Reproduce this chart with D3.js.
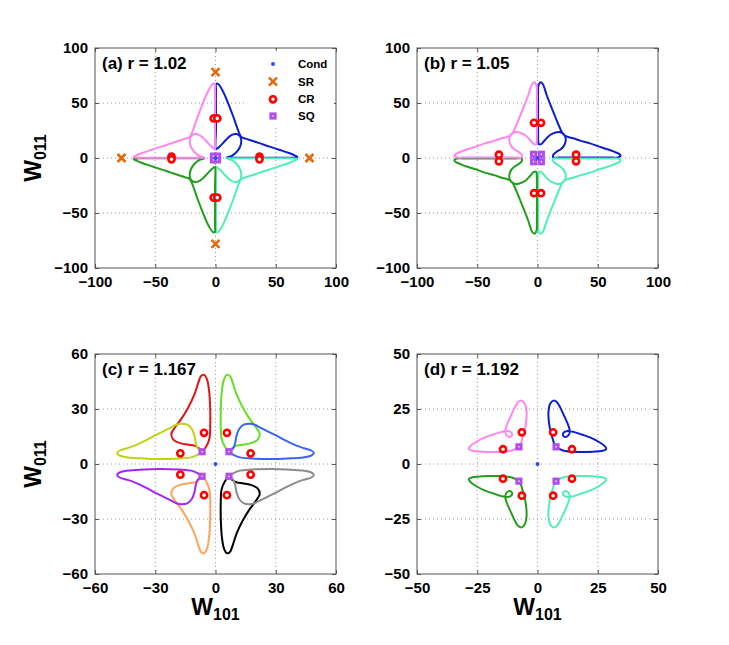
<!DOCTYPE html>
<html lang="en">
<head>
<meta charset="utf-8">
<title>D3: Four panels</title>
<script src="https://cdn.jsdelivr.net/npm/d3@7"></script>
<style>
body { margin: 0; background: #fff; }
text { font-family: "Liberation Sans", Arial, sans-serif; font-weight: bold; fill: #000; }
.grid { stroke: #9a9a9a; stroke-dasharray: 1,3; stroke-width: 1; }
.box { fill: none; stroke: #555; stroke-width: 1; }
.tick line { stroke: #555; }
.curve { fill: none; stroke-width: 2; }
</style>
</head>
<body>
<script>

//Width and height
var w = 729;
var h = 645;

//ticks
var ticksAB = [-100, -50, 0, 50, 100];
var ticksC = [-60, -30, 0, 30, 60];
var ticksD = [-50, -25, 0, 25, 50];

//quadrant signs, in drawing order
var quadrants = [[1, 1], [1, -1], [-1, -1], [-1, 1]];
var quadColors = ["#0d1fc9", "#4ef0b4", "#229e1c", "#ff86f0"];
var colorsCVert = ["#66e01e", "#000000", "#ffa35e", "#e01414"];
var colorsCHorz = ["#3a64f5", "#8c8c8c", "#a526f2", "#bdd411"];

//first-quadrant curves (the others are mirror images)
var curveA = [[0.4,8],[0.4,25],[0.4,45],[0.4,62],[0.6,67.5],[2.5,67],[5.5,62],[8.5,55],[11.5,47],
  [14.8,37.5],[17.5,29],[19.5,23],[21.5,19],[25,17.6],[31,15.5],[37,13.3],[45,10.3],[53.5,7.3],
  [61,4.5],[66,2.2],[68,1],[66,0.4],[55,0.3],[40,0.3],[25,0.3],[12,0.3],[9.3,0.4],
  [13.5,2],[17.5,5.5],[20.3,10],[21.4,15],[20.5,19.5],[17.5,21.8],[14,21.2],[10.5,18.5],
  [7,14.5],[3.5,10.5],[1.5,8.7]];

var curveB = [[0.7,14],[0.5,25],[0.5,45],[0.5,60],[0.8,66],[2.6,68.8],[4.5,67],[7.6,57.3],
  [10.5,49],[13.1,42],[16,34],[18.7,27],[21.4,21.5],[25,19.3],[29.7,17.9],[36,15.6],[43.6,13.3],
  [50,10.8],[57.4,8.2],[64,5.5],[68,3.5],[69,2],[67,0.6],[60,0.4],[45,0.4],[30,0.4],[18,0.4],
  [13,0.5],[12.8,1.5],[13.3,3.3],[15.9,5.7],[19,7.8],[21.8,10.8],[23.4,15.5],[23,19.5],
  [21,22.4],[18,23.6],[15,23.2],[10.4,20.9],[6.2,16.4],[3.5,13],[2,12.3],[1,12.8]];

var lobeVertC = [[6.8,6.8],[4.5,9.8],[3,14],[2.6,22],[2.7,32],[3.2,40],[4.2,46],[5.6,48.6],
  [7.2,48],[8.5,44.5],[10.5,38],[13.5,31],[17.1,24.5],[20.3,19.8],[22,16.4],[21,13.3],
  [18,11.5],[14,10.6],[10.5,10],[8.2,8.6]];

var lobeHorzC = [[6.8,6.8],[9,5],[12.1,3.6],[18,3],[28.7,2.7],[36,3],[43.6,3.6],[47.5,4.5],
  [49,6],[47.5,7.5],[44,8.6],[40.3,10],[35,12.7],[30.4,15.5],[26,17.8],[22,20],[19.5,21.4],
  [17.1,22],[14.1,21.5],[11.8,19.1],[10.5,15.5],[9.8,11.5],[8.8,8.5]];

var curveD = [[7.5,7.9],[6.3,11.5],[5.2,16],[4.6,20.5],[4.6,24.5],[5.3,27.5],[6.6,28.8],[8,28.2],
  [9.5,25.5],[11.2,21.5],[12.8,17.5],[13.4,14.8],[12.8,13],[11.5,12.3],[10.6,13],[10.8,14.3],
  [12.5,15],[15,14.6],[18.3,13.4],[22,12],[25.5,10],[28,8],[28.5,6.8],[27,6],[23,5.6],
  [19.7,5.5],[15,5.5],[11,6],[8.8,7]];

//markers
var condPts = [[0, 0]];
var srA = [[0, 78], [0, -78], [78, 0], [-78, 0]];
var crA = [[-1.5,36],[1.5,36],[-1.5,-36],[1.5,-36],[36.5,1.2],[36.5,-1.2],[-36.5,1.2],[-36.5,-1.2]];
var sqA = [[-1.7,-1.7],[-1.7,1.7],[1.7,-1.7],[1.7,1.7]];
var crB = [[-2.9,32],[2.9,32],[-2.9,-32],[2.9,-32],[32,3],[32,-3],[-32,3],[-32,-3]];
var sqB = [[-3.2,-3.4],[-3.2,3.4],[3.2,-3.4],[3.2,3.4]];
var crC = [[5.7,17],[17.5,5.8],[-5.7,17],[-17.5,5.8],[-5.7,-17],[-17.5,-5.8],[5.7,-17],[17.5,-5.8]];
var sqC = [[6.7,6.7],[-6.7,6.7],[-6.7,-6.7],[6.7,-6.7]];
var crD = [[6.5,14.4],[14.3,6.7],[-6.5,14.4],[-14.3,6.7],[-6.5,-14.4],[-14.3,-6.7],[6.5,-14.4],[14.3,-6.7]];
var sqD = [[7.7,7.8],[-7.7,7.8],[-7.7,-7.8],[7.7,-7.8]];

var legendNames = ["Cond", "SR", "CR", "SQ"];

var pw = 241, ph = 220;

var svg = d3.select("body")
  .append("svg")
  .attr("width", w)
  .attr("height", h);

var panels = [
  { left: 95, top: 48, ticks: ticksAB, title: "(a) r = 1.02", ylab: true, xlab: false,
    sets: [{ pts: curveA, colors: quadColors }], sr: srA, cr: crA, sq: sqA, legend: true },
  { left: 417, top: 48, ticks: ticksAB, title: "(b) r = 1.05", ylab: false, xlab: false,
    sets: [{ pts: curveB, colors: quadColors }], sr: [], cr: crB, sq: sqB },
  { left: 95, top: 354, ticks: ticksC, title: "(c) r = 1.167", ylab: true, xlab: true,
    sets: [{ pts: lobeVertC, colors: colorsCVert }, { pts: lobeHorzC, colors: colorsCHorz }],
    sr: [], cr: crC, sq: sqC },
  { left: 417, top: 354, ticks: ticksD, title: "(d) r = 1.192", ylab: false, xlab: true,
    sets: [{ pts: curveD, colors: quadColors }], sr: [], cr: crD, sq: sqD }
];

function drawSR(g, x, y, pts) {
  g.selectAll(null).data(pts).enter().append("path")
    .attr("transform", function(d) { return "translate(" + x(d[0]) + "," + y(d[1]) + ")"; })
    .attr("d", "M-4,-4L4,4M-4,4L4,-4")
    .style("stroke", "#e2690c").style("stroke-width", 2.6).style("fill", "none");
}
function drawCR(g, x, y, pts) {
  g.selectAll(null).data(pts).enter().append("circle")
    .attr("cx", function(d) { return x(d[0]); })
    .attr("cy", function(d) { return y(d[1]); })
    .attr("r", 3.1)
    .style("fill", "#fff").style("stroke", "#ff0000").style("stroke-width", 2.6);
}
function drawSQ(g, x, y, pts) {
  g.selectAll(null).data(pts).enter().append("rect")
    .attr("x", function(d) { return x(d[0]) - 3.6; })
    .attr("y", function(d) { return y(d[1]) - 3.6; })
    .attr("width", 7.2).attr("height", 7.2)
    .style("fill", "#b34cf0");
  g.selectAll(null).data(pts).enter().append("circle")
    .attr("cx", function(d) { return x(d[0]); })
    .attr("cy", function(d) { return y(d[1]); })
    .attr("r", 0.9).style("fill", "#e4d4c0");
}
function drawCond(g, x, y, pts) {
  g.selectAll(null).data(pts).enter().append("circle")
    .attr("cx", function(d) { return x(d[0]); })
    .attr("cy", function(d) { return y(d[1]); })
    .attr("r", 2).style("fill", "#2a4bff");
}

panels.forEach(function(p) {
  var t = p.ticks;
  var x = d3.scaleLinear().domain([t[0], t[t.length - 1]]).range([p.left, p.left + pw]);
  var y = d3.scaleLinear().domain([t[0], t[t.length - 1]]).range([p.top + ph, p.top]);
  var g = svg.append("g");

  //grid
  var inner = t.slice(1, -1);
  g.selectAll(null).data(inner).enter().append("line").attr("class", "grid")
    .attr("x1", function(d) { return x(d); }).attr("x2", function(d) { return x(d); })
    .attr("y1", p.top).attr("y2", p.top + ph);
  g.selectAll(null).data(inner).enter().append("line").attr("class", "grid")
    .attr("y1", function(d) { return y(d); }).attr("y2", function(d) { return y(d); })
    .attr("x1", p.left).attr("x2", p.left + pw);

  //curves
  p.sets.forEach(function(s) {
    quadrants.forEach(function(q, i) {
      var line = d3.line()
        .x(function(d) { return x(q[0] * d[0]); })
        .y(function(d) { return y(q[1] * d[1]); })
        .curve(d3.curveCatmullRomClosed.alpha(0.5));
      g.append("path").attr("class", "curve")
        .attr("d", line(s.pts))
        .style("stroke", s.colors[i]);
    });
  });

  //markers
  drawSR(g, x, y, p.sr);
  drawCR(g, x, y, p.cr);
  drawSQ(g, x, y, p.sq);
  drawCond(g, x, y, condPts);

  //axes
  var ax = g.append("g").attr("transform", "translate(0," + (p.top + ph) + ")")
    .call(d3.axisBottom(x).tickValues(t).tickSizeInner(-4).tickSizeOuter(0).tickPadding(8));
  var ay = g.append("g").attr("transform", "translate(" + p.left + ",0)")
    .call(d3.axisLeft(y).tickValues(t).tickSizeInner(-4).tickSizeOuter(0).tickPadding(7));
  var at = g.append("g").attr("transform", "translate(0," + p.top + ")")
    .call(d3.axisTop(x).tickValues(t).tickSizeInner(-4).tickSizeOuter(0).tickFormat(""));
  var ar = g.append("g").attr("transform", "translate(" + (p.left + pw) + ",0)")
    .call(d3.axisRight(y).tickValues(t).tickSizeInner(-4).tickSizeOuter(0).tickFormat(""));
  [ax, ay, at, ar].forEach(function(a) {
    a.select(".domain").remove();
    a.selectAll("text").style("font-size", "15px")
      .style("font-family", "'Liberation Sans', Arial, sans-serif").style("font-weight", "bold");
  });
  g.append("rect").attr("class", "box")
    .attr("x", p.left).attr("y", p.top).attr("width", pw).attr("height", ph);

  //panel title
  g.append("text").attr("x", p.left + 7).attr("y", p.top + 21)
    .style("font-size", "17px").text(p.title);

  //legend
  if (p.legend) {
    var lx = p.left + pw;
    g.append("rect").attr("x", lx - 92).attr("y", p.top + 3)
      .attr("width", 90).attr("height", 76).style("fill", "#fff");
    var rows = [16, 33.7, 51.3, 68];
    var mx = lx - 63;
    drawCond(g, function() { return mx; }, function() { return p.top + rows[0]; }, [[0, 0]]);
    drawSR(g, function() { return mx; }, function() { return p.top + rows[1]; }, [[0, 0]]);
    drawCR(g, function() { return mx; }, function() { return p.top + rows[2]; }, [[0, 0]]);
    drawSQ(g, function() { return mx; }, function() { return p.top + rows[3]; }, [[0, 0]]);
    g.selectAll(null).data(legendNames).enter().append("text")
      .attr("x", lx - 38)
      .attr("y", function(d, i) { return p.top + rows[i] + 4; })
      .style("font-size", "11.5px")
      .text(function(d) { return d; });
  }

  //axis labels
  if (p.ylab) {
    var yl = g.append("text")
      .attr("transform", "translate(41," + (p.top + ph / 2) + ") rotate(-90)")
      .attr("text-anchor", "middle");
    yl.append("tspan").style("font-size", "23px").text("W");
    yl.append("tspan").style("font-size", "16px").attr("dy", 5).text("011");
  }
  if (p.xlab) {
    var xl = g.append("text")
      .attr("x", p.left + pw / 2).attr("y", p.top + ph + 41)
      .attr("text-anchor", "middle");
    xl.append("tspan").style("font-size", "23px").text("W");
    xl.append("tspan").style("font-size", "16px").attr("dy", 5).text("101");
  }
});

</script>
</body>
</html>
